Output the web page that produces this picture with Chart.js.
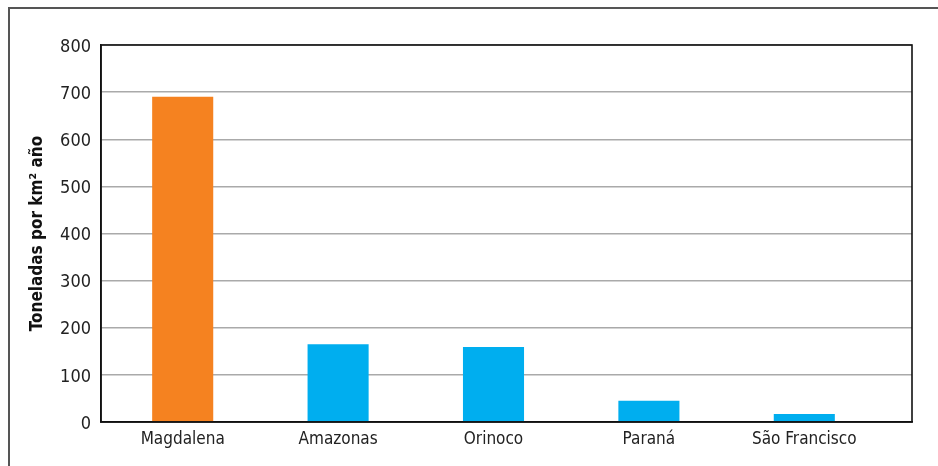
<!DOCTYPE html>
<html>
<head>
<meta charset="utf-8">
<script src="https://cdn.jsdelivr.net/npm/chart.js@4"></script>
<style>
  html, body { margin: 0; padding: 0; background: #fff; }
  #wrap { position: relative; width: 938px; height: 466px; }
  #frame { position: absolute; left: 8px; top: 7px; right: 0; bottom: 0;
           border-left: 2px solid #555; border-top: 2px solid #555; }
  canvas { position: absolute; left: 0; top: 0; }
</style>
</head>
<body>
<div id="wrap">
  <div id="frame"></div>
  <canvas id="c" width="938" height="466"></canvas>
</div>
<script>
const categories = ["Magdalena", "Amazonas", "Orinoco", "Paraná", "São Francisco"];
const values = [690, 165, 159, 45, 17];
const yTicks = [0, 100, 200, 300, 400, 500, 600, 700, 800];
const yTitle = "Toneladas por km² año";

const FONT = "'Liberation Sans Narrow', 'DejaVu Sans Condensed', 'Arial Narrow', sans-serif";
const ORANGE = "#F58220";
const BLUE = "#00AEEF";

// draws the closed plot frame
const framePlugin = {
  id: 'framePlugin',
  afterLayout(chart) {
    // the category band in the original is slightly narrower than the plot frame
    const s = chart.scales.x;
    s._startPixel = s.left + 4;
    s._endPixel = s.right - 30;
    s._length = s._endPixel - s._startPixel;
  },
  afterDraw(chart) {
    const {ctx, chartArea: a} = chart;
    ctx.save();
    ctx.strokeStyle = '#111';
    ctx.lineWidth = 1.6;
    ctx.strokeRect(a.left, a.top, a.right - a.left, a.bottom - a.top);
    ctx.restore();
  }
};

new Chart(document.getElementById('c'), {
  type: 'bar',
  data: {
    labels: categories,
    datasets: [{
      data: values,
      backgroundColor: categories.map((_, i) => i === 0 ? ORANGE : BLUE),
      borderWidth: 0,
      categoryPercentage: 1,
      barPercentage: 0.393
    }]
  },
  options: {
    responsive: false,
    animation: false,
    devicePixelRatio: 1,
    layout: { padding: { left: 0, top: 45, right: 26, bottom: 0 } },
    plugins: { legend: { display: false }, tooltip: { enabled: false } },
    scales: {
      x: {
        grid: { display: false, drawTicks: false },
        border: { color: '#111', width: 1.6 },
        ticks: { color: '#222', font: { family: FONT, size: 17 }, padding: 7, maxRotation: 0, autoSkip: false },
        afterFit(s) { s.height = 44; }
      },
      y: {
        min: 0, max: 800,
        afterBuildTicks(s) { s.ticks = yTicks.map(v => ({ value: v })); },
        grid: { color: '#aaa', lineWidth: 1.5, drawTicks: false },
        border: { color: '#111', width: 1.6 },
        ticks: { color: '#222', font: { family: FONT, size: 18 }, padding: 10, labelOffset: 2 },
        title: { display: true, text: yTitle, color: '#111',
                 font: { family: FONT, size: 17, weight: 'bold' }, padding: { top: 27, bottom: 0 } },
        afterFit(s) { s.width = 101; }
      }
    }
  },
  plugins: [framePlugin]
});
</script>
</body>
</html>
